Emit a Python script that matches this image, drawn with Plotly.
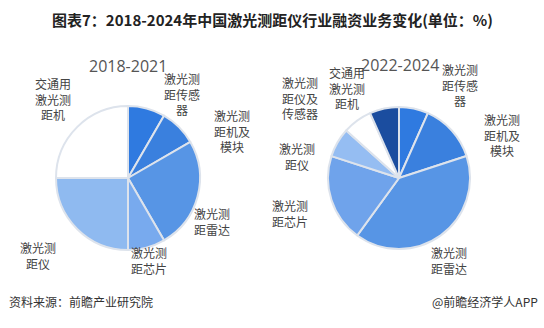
import plotly.graph_objects as go

W, H = 544, 328

left_title = "2018-2021"
left_labels = ["激光测<br>距传感<br>器", "激光测<br>距机及<br>模块", "激光测<br>距雷达", "激光测<br>距芯片", "激光测<br>距仪", "交通用<br>激光测<br>距机"]
left_values = [8.33, 8.33, 25.0, 8.33, 25.0, 25.0]
left_colors = ["#2f7ae0", "#3a80de", "#5795e5", "#78aaee", "#8fbaf0", "#ffffff"]

right_title = "2022-2024"
right_labels = ["激光测<br>距传感<br>器", "激光测<br>距机及<br>模块", "激光测<br>距雷达", "激光测<br>距芯片", "激光测<br>距仪", "交通用<br>激光测<br>距机", "激光测<br>距仪及<br>传感器"]
right_values = [6.67, 13.33, 40.0, 20.0, 6.67, 6.67, 6.67]
right_colors = ["#2f7ae0", "#3a80de", "#5795e5", "#6fa3eb", "#95bdf2", "#ffffff", "#1b4d9f"]

# layout (pixels from top-left): pie center/radius, title position, label positions
pies = [
    dict(title=left_title, labels=left_labels, values=left_values, colors=left_colors,
         cx=128, cy=178, r=72, tpos=(128, 66),
         lpos=[(182, 94), (232, 131), (212, 221), (149, 260), (38, 255), (53, 99)]),
    dict(title=right_title, labels=right_labels, values=right_values, colors=right_colors,
         cx=399, cy=178, r=71, tpos=(400, 65),
         lpos=[(460, 85), (502, 135), (449, 260), (290, 213), (297, 156), (347, 88), (300, 98)]),
]

fig = go.Figure()
annotations = []
for p in pies:
    cx, cy, r = p["cx"], p["cy"], p["r"]
    fig.add_trace(go.Pie(
        labels=[l.replace("<br>", "") for l in p["labels"]],
        values=p["values"],
        sort=False, direction="clockwise", rotation=0,
        marker=dict(colors=p["colors"], line=dict(color="#dde3ec", width=2)),
        textinfo="none", hoverinfo="label+value", showlegend=False,
        domain=dict(x=[(cx - r) / W, (cx + r) / W], y=[(H - cy - r) / H, (H - cy + r) / H]),
    ))
    for lab, (x, y) in zip(p["labels"], p["lpos"]):
        annotations.append(dict(
            x=x / W, y=1 - y / H, xref="paper", yref="paper", text=lab, showarrow=False,
            font=dict(size=12, color="#444444", family="Noto Sans CJK SC"),
            align="center", xanchor="center", yanchor="middle"))
    tx, ty = p["tpos"]
    annotations.append(dict(
        x=tx / W, y=1 - ty / H, xref="paper", yref="paper", text=p["title"], showarrow=False,
        font=dict(size=16, color="#555555", family="Open Sans"), xanchor="center", yanchor="middle"))

annotations += [
    dict(x=272 / W, y=1 - 19 / H, xref="paper", yref="paper",
         text="<b>图表7：2018-2024年中国激光测距仪行业融资业务变化(单位：%)</b>", showarrow=False,
         font=dict(size=15, color="#222222", family="Noto Sans CJK SC"), xanchor="center", yanchor="middle"),
    dict(x=7 / W, y=1 - 301 / H, xref="paper", yref="paper", text="资料来源：前瞻产业研究院", showarrow=False,
         font=dict(size=12, color="#333333", family="Noto Sans CJK SC"), xanchor="left", yanchor="middle"),
    dict(x=540 / W, y=1 - 301 / H, xref="paper", yref="paper", text="@前瞻经济学人APP", showarrow=False,
         font=dict(size=12, color="#333333", family="Noto Sans CJK SC"), xanchor="right", yanchor="middle"),
]

fig.update_layout(width=W, height=H, margin=dict(l=0, r=0, t=0, b=0),
                  paper_bgcolor="white", plot_bgcolor="white", annotations=annotations)
fig.write_html("out.html")
